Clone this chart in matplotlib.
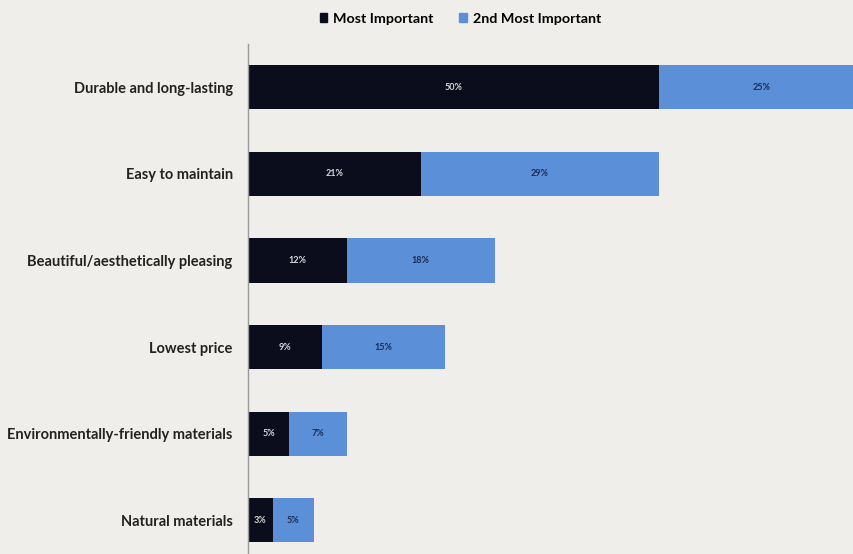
import matplotlib

matplotlib.use("Agg")
import matplotlib.pyplot as plt
import numpy as np
from matplotlib.patches import Patch

categories = [
    "Durable and long-lasting",
    "Easy to maintain",
    "Beautiful/aesthetically pleasing",
    "Lowest price",
    "Environmentally-friendly materials",
    "Natural materials",
]
most_important = [50, 21, 12, 9, 5, 3]
second_most = [25, 29, 18, 15, 7, 5]
series_names = ["Most Important", "2nd Most Important"]

DARK = "#0b0c1c"
BLUE = "#5b8fd8"
BG = "#efeeea"

plt.rcParams["font.family"] = ["Lato", "DejaVu Sans"]

fig = plt.figure(figsize=(8.54, 5.54), dpi=100, facecolor=BG)
ax = fig.add_axes([248 / 854, 0.0, 1 - 248 / 854, 1 - 44 / 554])
ax.set_facecolor(BG)

y = np.arange(len(categories))[::-1]
h = 0.51
ax.barh(y, most_important, height=h, color=DARK)
ax.barh(y, second_most, height=h, left=most_important, color=BLUE)

for yi, a, b in zip(y, most_important, second_most):
    ax.text(a / 2, yi, f"{a}%", ha="center", va="center",
            color="#d8d8dc", fontsize=6.5, fontweight="bold")
    ax.text(a + b / 2, yi, f"{b}%", ha="center", va="center",
            color="#1a2a55", fontsize=6.5, fontweight="bold")

ax.set_xlim(0, 73.7)
ax.set_ylim(-0.39, 5.5)
ax.set_yticks(y)
ax.set_yticklabels(categories, fontsize=10.5, fontweight="bold", color="#222222")
ax.tick_params(axis="y", length=0, pad=11)
ax.set_xticks([])

for side in ("top", "right", "bottom"):
    ax.spines[side].set_visible(False)
ax.spines["left"].set_color("#9a9a9a")
ax.spines["left"].set_linewidth(1.0)

handles = [Patch(color=DARK), Patch(color=BLUE)]
fig.legend(handles, series_names, loc="center", bbox_to_anchor=(0.539, 0.966),
           ncol=2, frameon=False, handlelength=0.55,
           handleheight=0.55, handletextpad=0.4, columnspacing=1.8,
           prop={"weight": "bold", "size": 10.3})

fig.savefig("out.png", dpi=100, facecolor=BG)
